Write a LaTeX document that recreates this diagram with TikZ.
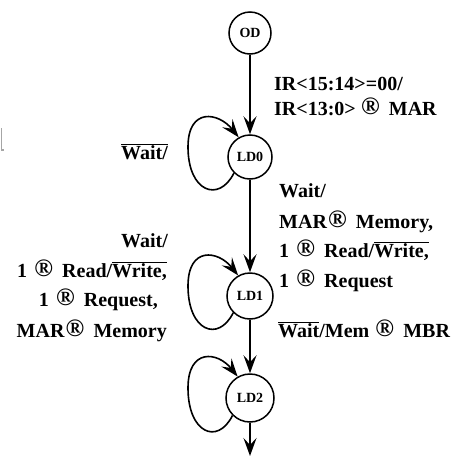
\documentclass[tikz,border=0pt]{standalone}
\usepackage{fontspec}
\setmainfont{Liberation Serif}
\usetikzlibrary{arrows.meta}
\newcommand\ovl[1]{$\overline{\hbox{#1}}$}
\newcommand\rs{\makebox[13pt][c]{\raisebox{0.5pt}{\fontsize{25}{25}\selectfont ®}}\hspace{12pt}}
\newcommand\selfloop[1]{\draw[arr] (#1.225) .. controls +(-15,30) and +(0,45) .. ([shift={(-62,-10)}]#1.center) .. controls +(0,-40) and +(-20,-25) .. (#1.120);}
\begin{document}
\begin{tikzpicture}[x=1pt,y=-1pt,
  state/.style={circle,draw,line width=1.5pt,inner sep=0pt,font=\fontsize{14}{14}\selectfont\bfseries},
  arr/.style={line width=1.6pt,-{Stealth[length=18pt,width=13pt,inset=7pt]}},
  lbl/.style={inner sep=0pt,font=\fontsize{20}{20}\selectfont\bfseries},
  lw/.style={lbl,anchor=base west},
  le/.style={lbl,anchor=base east}]
\useasboundingbox (0,0) rectangle (459,461);
\node[state,minimum size=42pt] (OD) at (250,33) {OD};
\node[state,minimum size=44pt] (LD0) at (250,157) {LD0};
\node[state,minimum size=46pt] (LD1) at (250,296) {LD1};
\node[state,minimum size=48pt] (LD2) at (250,398) {LD2};
\coordinate (end) at (250,456);
\draw[arr] (OD) -- (LD0);
\draw[arr] (LD0) -- (LD1);
\draw[arr] (LD1) -- (LD2);
\draw[arr] (LD2) -- (end);
\selfloop{LD0}
\selfloop{LD1}
\selfloop{LD2}
\node[lw] (t1) at (274,90) {IR<15:14>=00/};
\node[lw] (t2) at (274,115) {IR<13:0>\hspace{8pt}\rs MAR};
\node[le] (w0) at (168,159) {\ovl{Wait/}};
\node[lw] (r1) at (279,197) {Wait/};
\node[lw] (r2) at (279,228) {MAR\hspace{4pt}\rs Memory,};
\node[lw] (r3) at (279,257) {1\hspace{10pt}\rs Read/\ovl{Write,}};
\node[lw] (r4) at (279,287) {1\hspace{10pt}\rs Request};
\node[le] (l1) at (168,247) {Wait/};
\node[le] (l2) at (167,277) {1\hspace{10pt}\rs Read/\ovl{Write,}};
\node[le] (l3) at (158,306) {1\hspace{10pt}\rs Request,};
\node[le] (l4) at (167,337) {MAR\hspace{4pt}\rs Memory};
\node[lw] (m) at (278,337) {\ovl{Wait}/Mem\hspace{9pt}\rs MBR};
\draw[gray!70,line width=1.2pt] (1.2,128) -- (1.2,150) -- (3.5,150);
\end{tikzpicture}
\end{document}
